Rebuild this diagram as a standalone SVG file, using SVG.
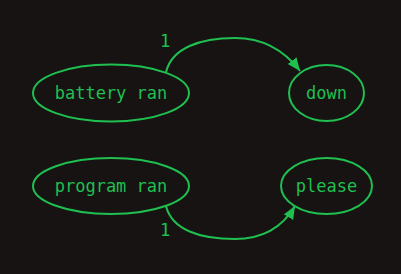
<svg xmlns="http://www.w3.org/2000/svg" width="401" height="274" viewBox="0 0 401 274">
<style>
.n{fill:none;stroke:#1fbf50;stroke-width:2}
.t{font-family:"DejaVu Sans Mono",monospace;font-size:17px;fill:#1fbf50;text-anchor:middle}
.e{fill:none;stroke:#1fbf50;stroke-width:2}
</style>
<defs>
<marker id="a" markerUnits="userSpaceOnUse" markerWidth="14" markerHeight="12" refX="13" refY="5.5" orient="auto">
<path d="M0,0 L13,5.5 L0,11 Z" fill="#1fbf50"/>
</marker>
</defs>
<rect width="401" height="274" fill="#161312"/>
<g id="edges">
<path class="e" d="M166,72 C172,48 200,38 235,38 C262,38 284,50 300,71" marker-end="url(#a)"/>
<text class="t" x="165" y="47">1</text>
<path class="e" d="M166,206 C172,230 200,239 235,239 C262,239 282,228 295,206" marker-end="url(#a)"/>
<text class="t" x="165" y="236">1</text>
</g>
<g id="battery_ran"><ellipse class="n" cx="111" cy="93" rx="78" ry="28.5"/><text class="t" x="111" y="99">battery ran</text></g>
<g id="down"><ellipse class="n" cx="326.5" cy="93" rx="37.5" ry="28"/><text class="t" x="326.5" y="99">down</text></g>
<g id="program_ran"><ellipse class="n" cx="111" cy="186" rx="78" ry="28"/><text class="t" x="111" y="192">program ran</text></g>
<g id="please"><ellipse class="n" cx="326.5" cy="186" rx="45.5" ry="28"/><text class="t" x="326.5" y="192">please</text></g>
</svg>
